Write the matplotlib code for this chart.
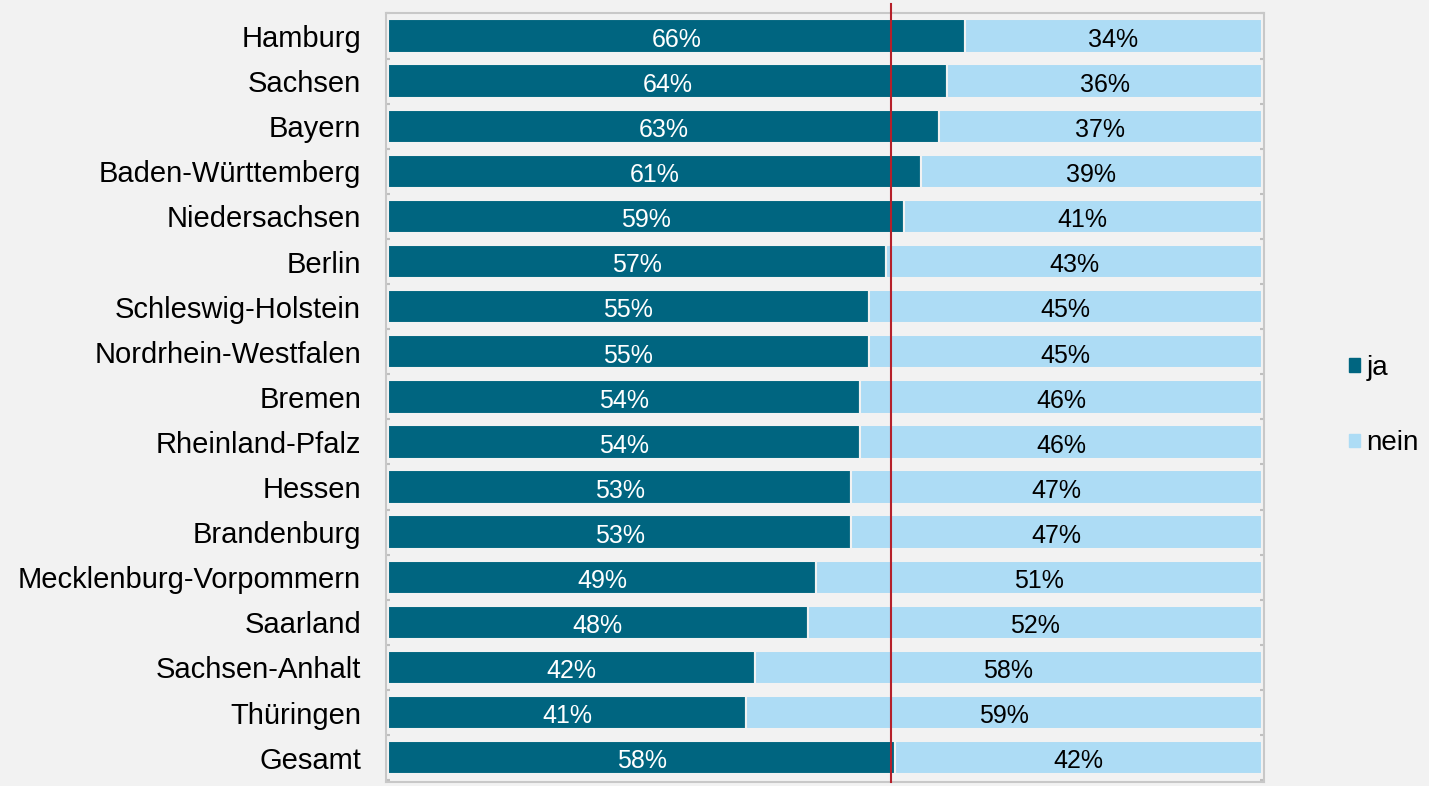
import numpy as np
import matplotlib.pyplot as plt
from matplotlib.patches import Patch

laender = ["Hamburg", "Sachsen", "Bayern", "Baden-Württemberg", "Niedersachsen",
           "Berlin", "Schleswig-Holstein", "Nordrhein-Westfalen", "Bremen",
           "Rheinland-Pfalz", "Hessen", "Brandenburg", "Mecklenburg-Vorpommern",
           "Saarland", "Sachsen-Anhalt", "Thüringen", "Gesamt"]
ja = [66, 64, 63, 61, 59, 57, 55, 55, 54, 54, 53, 53, 49, 48, 42, 41, 58]
nein = [34, 36, 37, 39, 41, 43, 45, 45, 46, 46, 47, 47, 51, 52, 58, 59, 42]
referenz = 57.5  # Bundesdurchschnitt

bg = "#f2f2f2"
c_ja = "#006580"
c_nein = "#addcf5"

plt.rcParams["font.family"] = ["Liberation Sans", "DejaVu Sans"]

fig = plt.figure(figsize=(14.29, 7.86), dpi=100, facecolor=bg)
ax = fig.add_axes([386 / 1429, 4 / 786, 878 / 1429, 769 / 786], facecolor=bg)

y = np.arange(len(laender))
ax.barh(y, ja, height=0.74, color=c_ja, edgecolor=bg, linewidth=1.5)
ax.barh(y, nein, left=ja, height=0.74, color=c_nein, edgecolor=bg, linewidth=1.5)

for i in range(len(laender)):
    ax.text(ja[i] / 2, y[i] + 0.03, f"{ja[i]}%", ha="center", va="center_baseline",
            color="white", fontsize=18)
    ax.text(ja[i] + nein[i] / 2, y[i] + 0.03, f"{nein[i]}%", ha="center",
            va="center_baseline", color="black", fontsize=18)

ax.axvline(referenz, ymin=0, ymax=1.012, color="#b5202a", linewidth=1.5,
           clip_on=False, zorder=5)

ax.set_xlim(-0.25, 100.25)
ax.set_ylim(16.54, -0.51)
ax.set_yticks(y)
ax.set_yticklabels(laender, fontsize=21)
ax.set_yticks(np.arange(-0.5, len(laender), 1), minor=True)
ax.tick_params(axis="y", which="major", length=0, pad=18)
ax.tick_params(axis="y", which="minor", length=3, width=1.5, color="#bfbfbf",
               direction="in", left=True, right=True)
ax.set_xticks([])
for s in ax.spines.values():
    s.set_color("#c8c8c8")
    s.set_linewidth(1.5)

handles = [Patch(color=c_ja, label="ja"), Patch(color=c_nein, label="nein")]
fig.legend(handles=handles, loc="center left", bbox_to_anchor=(1324 / 1429, 0.484),
           frameon=False, fontsize=20, handlelength=0.38, handleheight=0.38,
           handletextpad=0.25, labelspacing=1.78)

fig.savefig("out.png", dpi=100, facecolor=bg)
